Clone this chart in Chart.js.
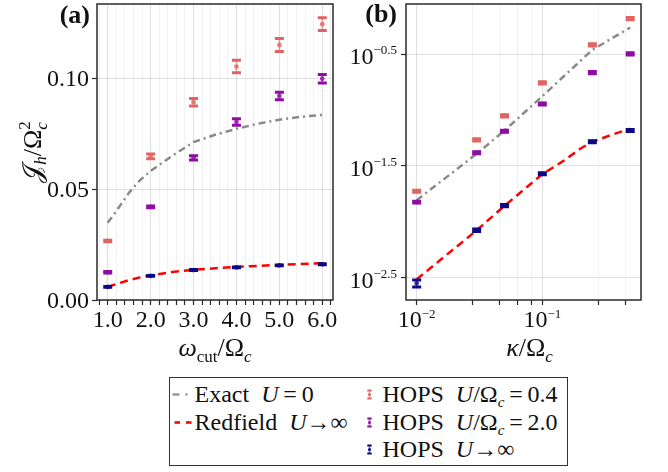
<!DOCTYPE html>
<html>
<head>
<meta charset="utf-8">
<script src="https://cdn.jsdelivr.net/npm/chart.js@4.4.1/dist/chart.umd.min.js"></script>
<style>
  html, body { margin: 0; padding: 0; background: #fff; }
  #wrap { position: relative; width: 668px; height: 472px; overflow: hidden; }
  #panelA { position: absolute; left: 0; top: 0; }
  #panelB { position: absolute; left: 340px; top: 0; }
  #legend {
    position: absolute; left: 169px; top: 377px; width: 397px; height: 87px;
    border: 1.5px solid #333; font-family: "Liberation Serif", serif; font-size: 24px; color: #111;
  }
  #legend .item { position: absolute; white-space: nowrap; line-height: 24px; }
  #legend svg { position: absolute; left: 0; top: 0; }
  .sub { font-size: 15px; position: relative; top: 5px; }
</style>
</head>
<body>
<div id="wrap">
  <canvas id="panelA" width="340" height="372"></canvas>
  <canvas id="panelB" width="328" height="372"></canvas>
  <div id="legend">
    <svg width="397" height="87">
      <line x1="2.5" y1="16.5" x2="9.5" y2="16.5" stroke="#8a8a8a" stroke-width="2.2"/>
      <circle cx="16.5" cy="16.5" r="1.2" fill="#8a8a8a"/>
      <line x1="4.5" y1="44.5" x2="10" y2="44.5" stroke="#ff0000" stroke-width="2.6"/>
      <line x1="16" y1="44.5" x2="21.5" y2="44.5" stroke="#ff0000" stroke-width="2.6"/>
      <g id="errIcons"></g>
    </svg>
    <div class="item" style="left:24.5px; top:3.5px;">Exact&nbsp;&nbsp;<i>U</i>&thinsp;=&thinsp;0</div>
    <div class="item" style="left:24.5px; top:31.5px;">Redfield&nbsp;&nbsp;<i>U</i>→∞</div>
    <div class="item" style="left:212.5px; top:3.5px;">HOPS&nbsp;&nbsp;<i>U</i>/Ω<span class="sub"><i>c</i></span>&thinsp;=&thinsp;0.4</div>
    <div class="item" style="left:212.5px; top:31.5px;">HOPS&nbsp;&nbsp;<i>U</i>/Ω<span class="sub"><i>c</i></span>&thinsp;=&thinsp;2.0</div>
    <div class="item" style="left:212.5px; top:58.5px;">HOPS&nbsp;&nbsp;<i>U</i>→∞</div>
  </div>
</div>
<script>
// ---- panel (a): heat current vs cutoff frequency ----
const omegaCut = [1, 2, 3, 4, 5, 6];
const hopsA_U04 = [0.0266, 0.0648, 0.0892, 0.1053, 0.1150, 0.1244];
const hopsA_U04Err = [0.0003, 0.0011, 0.0017, 0.0028, 0.0029, 0.0029];
const hopsA_U2 = [0.0125, 0.0420, 0.0641, 0.0803, 0.0920, 0.0998];
const hopsA_U2Err = [0.0003, 0.0004, 0.0010, 0.0015, 0.0017, 0.0019];
const hopsA_Uinf = [0.0059, 0.0109, 0.0135, 0.0147, 0.0156, 0.0161];
const hopsA_UinfErr = [0.0002, 0.0002, 0.0002, 0.0002, 0.0002, 0.0002];

const curveA_x = [1, 1.25, 1.5, 1.75, 2, 2.5, 3, 3.5, 4, 4.5, 5, 5.5, 6];
const exactA = [0.0348, 0.0415, 0.0485, 0.0540, 0.0582, 0.0650, 0.0712, 0.0745, 0.0772, 0.0795, 0.0813, 0.0826, 0.0835];
const redfieldA = [0.0060, 0.0075, 0.0090, 0.0102, 0.0111, 0.0126, 0.0136, 0.0143, 0.0149, 0.0154, 0.0158, 0.0162, 0.0166];

const xMajorA = [1, 2, 3, 4, 5, 6];
const xMajorLabelsA = ['1.0', '2.0', '3.0', '4.0', '5.0', '6.0'];
const xMinorA = [0.8, 1.2, 1.4, 1.6, 1.8, 2.2, 2.4, 2.6, 2.8, 3.2, 3.4, 3.6, 3.8,
                 4.2, 4.4, 4.6, 4.8, 5.2, 5.4, 5.6, 5.8, 6.2];
const yMajorA = [0, 0.05, 0.10];
const yMajorLabelsA = ['0.00', '0.05', '0.10'];

// ---- panel (b): heat current vs coupling, log-log ----
const kappa = [0.01, 0.03, 0.05, 0.1, 0.25, 0.5];
const hopsB_U04 = [0.0188, 0.0541, 0.0885, 0.1745, 0.383, 0.656];
const hopsB_U04Err = [0.0004, 0.0012, 0.002, 0.004, 0.009, 0.015];
const hopsB_U2 = [0.0150, 0.0415, 0.0646, 0.1133, 0.2155, 0.318];
const hopsB_U2Err = [0.0003, 0.0009, 0.0014, 0.0025, 0.005, 0.007];
const hopsB_Uinf = [0.00282, 0.00841, 0.01396, 0.0269, 0.0520, 0.0655];
const hopsB_UinfErr = [0.0002, 0.0002, 0.0003, 0.0006, 0.0011, 0.0014];

const exactB_x = [0.01, 0.03, 0.05, 0.1, 0.25, 0.5];
const exactB = [0.0156, 0.0406, 0.0655, 0.133, 0.345, 0.546];
const redfieldB_x = [0.01, 0.03, 0.05, 0.1, 0.15, 0.2, 0.25, 0.35, 0.5];
const redfieldB = [0.00306, 0.0084, 0.0139, 0.0267, 0.0355, 0.045, 0.052, 0.0596, 0.068];

const xMajorB = [0.01, 0.1];
const xMajorExpB = ['−2', '−1'];
const xMinorB = [0.028, 0.046, 0.064, 0.082, 0.28, 0.46];
const yMajorB = [Math.pow(10, -2.5), Math.pow(10, -1.5), Math.pow(10, -0.5)];
const yMajorExpB = ['−2.5', '−1.5', '−0.5'];

// ---- styling ----
const SERIF = '"Liberation Serif", "DejaVu Serif", serif';
const FRAME = '#2a2a2a';
const GRID_MAJOR = 'rgba(0,0,0,0.12)';
const GRID_MINOR = 'rgba(0,0,0,0.05)';
const C_U04 = '#e16462';
const C_U2 = '#8f0da4';
const C_UINF = '#0d0887';
const C_EXACT = '#8a8a8a';
const C_REDFIELD = '#ff0000';

function pts(xs, ys) {
  return xs.map((x, i) => ({ x: x, y: ys[i] }));
}

function fontOf(size, italic, bold) {
  return (italic ? 'italic ' : '') + (bold ? 'bold ' : '') + size + 'px ' + SERIF;
}

// draw a run of text pieces with sub/superscripts
function drawRich(ctx, parts, x, y, align) {
  const pos = [];
  let cursor = 0;
  parts.forEach((p, i) => {
    ctx.font = fontOf(p.size || 26, p.it);
    const w = ctx.measureText(p.t).width + (p.pad || 0);
    if (p.stack) {
      const start = pos[i - 1];
      pos.push(start);
      cursor = Math.max(cursor, start + w);
    } else {
      pos.push(cursor);
      cursor += w;
    }
  });
  const x0 = align === 'center' ? x - cursor / 2 : align === 'right' ? x - cursor : x;
  ctx.textAlign = 'left';
  ctx.textBaseline = 'alphabetic';
  parts.forEach((p, i) => {
    ctx.font = fontOf(p.size || 26, p.it);
    ctx.fillText(p.t, x0 + pos[i], y + (p.dy || 0));
  });
}

function drawErrorBars(chart, index) {
  const ds = chart.data.datasets[index];
  if (!ds.errors) return;
  const meta = chart.getDatasetMeta(index);
  const yScale = chart.scales.y;
  const area = chart.chartArea;
  const ctx = chart.ctx;
  ctx.save();
  ctx.beginPath();
  ctx.rect(area.left, area.top, area.right - area.left, area.bottom - area.top);
  ctx.clip();
  ds.data.forEach((pt, i) => {
    const x = meta.data[i].x;
    const top = yScale.getPixelForValue(pt.y + ds.errors[i]);
    const bot = yScale.getPixelForValue(pt.y - ds.errors[i]);
    ctx.strokeStyle = ds.borderColor;
    ctx.globalAlpha = 0.55;
    ctx.lineWidth = 1.6;
    ctx.beginPath();
    ctx.moveTo(x, top);
    ctx.lineTo(x, bot);
    ctx.stroke();
    ctx.globalAlpha = 1;
    ctx.lineWidth = 3;
    ctx.beginPath();
    ctx.moveTo(x - 4.5, top); ctx.lineTo(x + 4.5, top);
    ctx.moveTo(x - 4.5, bot); ctx.lineTo(x + 4.5, bot);
    ctx.stroke();
  });
  ctx.restore();
}

function drawFrame(chart) {
  const a = chart.chartArea;
  const ctx = chart.ctx;
  ctx.save();
  ctx.strokeStyle = FRAME;
  ctx.lineWidth = 1.5;
  ctx.strokeRect(a.left, a.top, a.right - a.left, a.bottom - a.top);
  ctx.restore();
}

function hopsSet(label, xs, ys, errs, color) {
  return {
    label: label,
    data: pts(xs, ys),
    errors: errs,
    borderColor: color,
    backgroundColor: color + 'cc',
    pointRadius: 2.4,
    pointBorderWidth: 0,
    showLine: false
  };
}

function lineSet(label, xs, ys, color, dash) {
  return {
    label: label,
    data: pts(xs, ys),
    borderColor: color,
    borderWidth: 2.5,
    borderDash: dash,
    pointRadius: 0,
    showLine: true,
    fill: false
  };
}

function fixedTicks(majors, minors) {
  return function (scale) {
    const all = majors.map(v => ({ value: v, major: true }))
      .concat(minors.map(v => ({ value: v, major: false })));
    all.sort((p, q) => p.value - q.value);
    scale.ticks = all;
  };
}

function axis(type, min, max, majors, minors) {
  return {
    type: type,
    min: min,
    max: max,
    afterBuildTicks: fixedTicks(majors, minors),
    ticks: { display: false },
    border: { display: false },
    grid: {
      color: ctx => (ctx.tick && ctx.tick.major ? GRID_MAJOR : GRID_MINOR),
      lineWidth: 1,
      drawTicks: true,
      tickLength: 5,
      tickColor: FRAME,
      tickWidth: 1.2
    }
  };
}

const baseOptions = {
  responsive: false,
  animation: false,
  plugins: { legend: { display: false }, tooltip: { enabled: false } }
};

// panel (a)
const decorA = {
  id: 'decorA',
  beforeDatasetDraw(chart, args) { drawErrorBars(chart, args.index); },
  afterDraw(chart) {
    const ctx = chart.ctx;
    const a = chart.chartArea;
    const xs = chart.scales.x, ys = chart.scales.y;
    drawFrame(chart);
    ctx.save();
    ctx.fillStyle = '#111';
    ctx.font = fontOf(24);
    ctx.textAlign = 'center';
    ctx.textBaseline = 'alphabetic';
    xMajorA.forEach((v, i) => ctx.fillText(xMajorLabelsA[i], xs.getPixelForValue(v), a.bottom + 27));
    ctx.textAlign = 'right';
    yMajorA.forEach((v, i) => ctx.fillText(yMajorLabelsA[i], a.left - 8, ys.getPixelForValue(v) + 8));
    // axis titles
    drawRich(ctx, [
      { t: 'ω', it: true },
      { t: 'cut', size: 17, dy: 6 },
      { t: '/' },
      { t: 'Ω' },
      { t: 'c', it: true, size: 17, dy: 6 }
    ], (a.left + a.right) / 2, 356, 'center');
    ctx.save();
    ctx.translate(41, (a.top + a.bottom) / 2);
    ctx.rotate(-Math.PI / 2);
    drawRich(ctx, [
      { t: '𝒥' },
      { t: 'h', it: true, size: 17, dy: 5 },
      { t: '/' },
      { t: 'Ω' },
      { t: '2', size: 17, dy: -11 },
      { t: 'c', it: true, size: 17, dy: 6, stack: true }
    ], 0, 0, 'center');
    ctx.restore();
    ctx.font = fontOf(26, false, true);
    ctx.textAlign = 'right';
    ctx.fillText('(a)', 90, 23);
    ctx.restore();
  }
};

new Chart(document.getElementById('panelA'), {
  type: 'scatter',
  data: {
    datasets: [
      hopsSet('HOPS U/Ωc = 0.4', omegaCut, hopsA_U04, hopsA_U04Err, C_U04),
      hopsSet('HOPS U/Ωc = 2.0', omegaCut, hopsA_U2, hopsA_U2Err, C_U2),
      hopsSet('HOPS U→∞', omegaCut, hopsA_Uinf, hopsA_UinfErr, C_UINF),
      lineSet('Exact U = 0', curveA_x, exactA, C_EXACT, [7, 4, 2, 4]),
      lineSet('Redfield U→∞', curveA_x, redfieldA, C_REDFIELD, [8, 5])
    ]
  },
  options: Object.assign({}, baseOptions, {
    layout: { padding: { left: 92, right: 7, top: 3, bottom: 67 } },
    scales: {
      x: axis('linear', 0.75, 6.25, xMajorA, xMinorA),
      y: axis('linear', 0, 0.1335, yMajorA, [])
    }
  }),
  plugins: [decorA]
});

// panel (b)
const decorB = {
  id: 'decorB',
  beforeDatasetDraw(chart, args) { drawErrorBars(chart, args.index); },
  afterDraw(chart) {
    const ctx = chart.ctx;
    const a = chart.chartArea;
    const xs = chart.scales.x, ys = chart.scales.y;
    drawFrame(chart);
    ctx.save();
    ctx.fillStyle = '#111';
    xMajorB.forEach((v, i) => drawRich(ctx, [
      { t: '10', size: 24 },
      { t: xMajorExpB[i], size: 13, dy: -9 }
    ], xs.getPixelForValue(v), a.bottom + 27, 'center'));
    yMajorB.forEach((v, i) => drawRich(ctx, [
      { t: '10', size: 24 },
      { t: yMajorExpB[i], size: 13, dy: -10 }
    ], a.left - 9, ys.getPixelForValue(v) + 10, 'right'));
    drawRich(ctx, [
      { t: 'κ', it: true },
      { t: '/' },
      { t: 'Ω' },
      { t: 'c', it: true, size: 17, dy: 6 }
    ], (a.left + a.right) / 2 + 6, 356, 'center');
    ctx.font = fontOf(26, false, true);
    ctx.textAlign = 'right';
    ctx.textBaseline = 'alphabetic';
    ctx.fillText('(b)', 57, 21.5);
    ctx.restore();
  }
};

new Chart(document.getElementById('panelB'), {
  type: 'scatter',
  data: {
    datasets: [
      hopsSet('HOPS U/Ωc = 0.4', kappa, hopsB_U04, hopsB_U04Err, C_U04),
      hopsSet('HOPS U/Ωc = 2.0', kappa, hopsB_U2, hopsB_U2Err, C_U2),
      hopsSet('HOPS U→∞', kappa, hopsB_Uinf, hopsB_UinfErr, C_UINF),
      lineSet('Exact U = 0', exactB_x, exactB, C_EXACT, [7, 4, 2, 4]),
      lineSet('Redfield U→∞', redfieldB_x, redfieldB, C_REDFIELD, [8, 5])
    ]
  },
  options: Object.assign({}, baseOptions, {
    layout: { padding: { left: 61, right: 27, top: 3, bottom: 67 } },
    scales: {
      x: axis('logarithmic', Math.pow(10, -2.085), Math.pow(10, -0.215), xMajorB, xMinorB),
      y: axis('logarithmic', Math.pow(10, -2.699), Math.pow(10, -0.052), yMajorB, [])
    }
  }),
  plugins: [decorB]
});

// legend error-bar glyphs
const legendColors = [C_U04, C_U2, C_UINF];
const legendRows = [16.5, 44.5, 71.5];
const icons = document.getElementById('errIcons');
legendColors.forEach((c, i) => {
  const y = legendRows[i];
  icons.innerHTML +=
    '<line x1="199.5" y1="' + (y - 4) + '" x2="199.5" y2="' + (y + 4) + '" stroke="' + c + '" stroke-opacity="0.6" stroke-width="1.5"/>' +
    '<line x1="197.3" y1="' + (y - 4) + '" x2="201.7" y2="' + (y - 4) + '" stroke="' + c + '" stroke-width="2"/>' +
    '<line x1="197.3" y1="' + (y + 4) + '" x2="201.7" y2="' + (y + 4) + '" stroke="' + c + '" stroke-width="2"/>' +
    '<circle cx="199.5" cy="' + y + '" r="1.5" fill="' + c + '"/>';
});
</script>
</body>
</html>
